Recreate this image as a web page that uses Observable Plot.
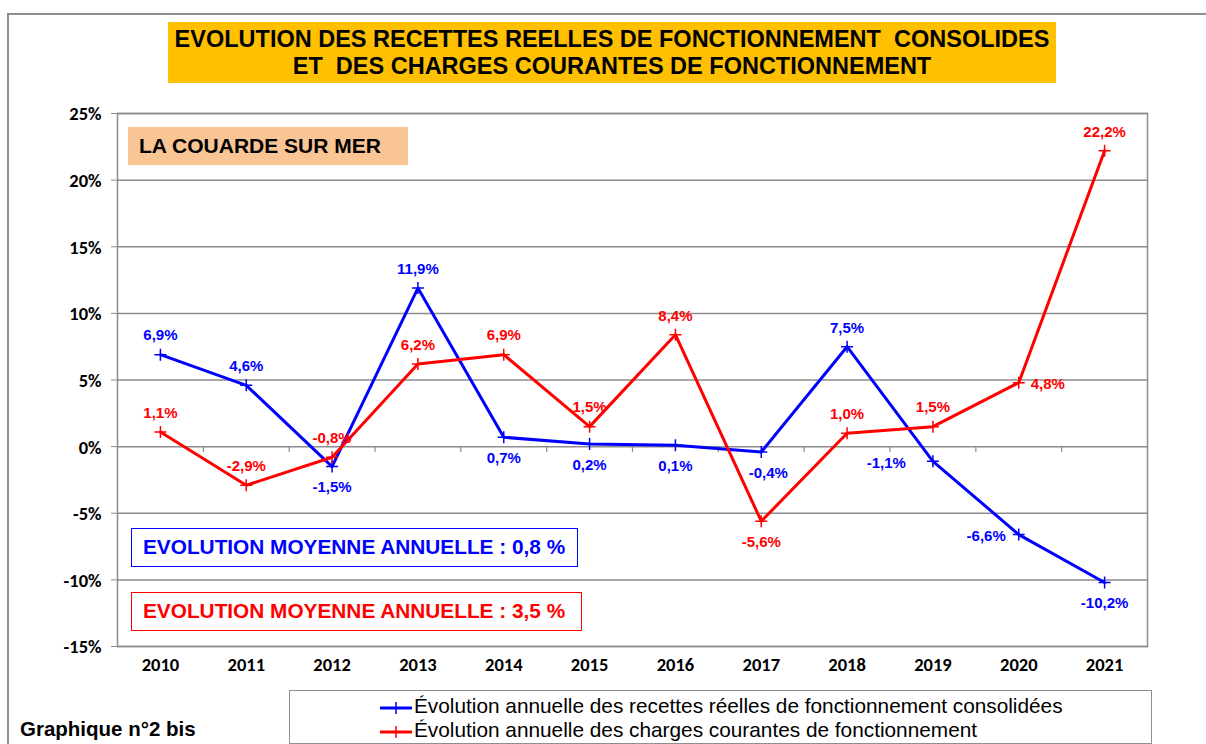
<!DOCTYPE html>
<html><head><meta charset="utf-8">
<script src="https://cdn.jsdelivr.net/npm/d3@7"></script>
<script src="https://cdn.jsdelivr.net/npm/@observablehq/plot@0.6"></script>
<style>
body{margin:0;background:#fff;font-family:"Liberation Sans",Arial,sans-serif;}
#wrap{position:relative;width:1206px;height:744px;overflow:hidden;background:#fff;}
#frame{position:absolute;left:7px;top:13px;width:1210px;height:800px;border-top:2px solid #8f8f8f;border-left:2px solid #8f8f8f;}
#chart{position:absolute;left:0;top:0;}
.box{position:absolute;box-sizing:border-box;font-weight:bold;white-space:nowrap;}
#title{left:168px;top:22px;width:888px;height:61px;background:#FFC000;color:#000;font-size:23.5px;line-height:27px;text-align:center;padding-top:4px;}
#commune{left:128px;top:127px;width:280px;height:38px;background:#FAC595;color:#000;font-size:21px;line-height:38px;padding-left:11px;}
#moyBlue{left:131px;top:528px;width:447px;height:39px;border:1.5px solid #0000ff;color:#0000ff;font-size:20.8px;line-height:36px;padding-left:11px;background:#fff;}
#moyRed{left:131px;top:592px;width:451px;height:39px;border:1.5px solid #ff0000;color:#ff0000;font-size:20.8px;line-height:36px;padding-left:11px;background:#fff;}
#legend{position:absolute;left:289px;top:690px;width:863px;height:54px;box-sizing:border-box;border:1.5px solid #8f8f8f;background:#fff;font-size:20.8px;}
.leg{position:absolute;left:89px;height:24px;line-height:24px;white-space:nowrap;color:#000;}
.leg svg{vertical-align:middle;}
#footer{position:absolute;left:20px;top:717px;font-size:20.5px;font-weight:bold;color:#000;}
</style></head><body>
<div id="wrap">
  <div id="frame"></div>
  <div id="chart"></div>
  <div id="title" class="box"></div>
  <div id="commune" class="box"></div>
  <div id="moyBlue" class="box"></div>
  <div id="moyRed" class="box"></div>
  <div id="legend"></div>
  <div id="footer"></div>
</div>
<script>
// ---- data ----
const years = [2010, 2011, 2012, 2013, 2014, 2015, 2016, 2017, 2018, 2019, 2020, 2021];
const recettes = [6.9, 4.6, -1.5, 11.9, 0.7, 0.2, 0.1, -0.4, 7.5, -1.1, -6.6, -10.2];
const charges = [1.1, -2.9, -0.8, 6.2, 6.9, 1.5, 8.4, -5.6, 1.0, 1.5, 4.8, 22.2];
const recettesLabelPos = ["top","top","bottom","top","bottom","bottom","bottom","bottomright","top","left","leftnear","bottom"];
const chargesLabelPos = ["top","top","top","top","top","top","top","bottom","top","top","right","top"];
const yTicks = [-15, -10, -5, 0, 5, 10, 15, 20, 25];
const seriesNames = ["Évolution annuelle des recettes réelles de fonctionnement consolidées",
                     "Évolution annuelle des charges courantes de fonctionnement"];
const seriesColors = ["#0000ff", "#ff0000"];
const titleLines = ["EVOLUTION DES RECETTES REELLES DE FONCTIONNEMENT\u00a0 CONSOLIDES", "ET\u00a0 DES CHARGES COURANTES DE FONCTIONNEMENT"];
const commune = "LA COUARDE SUR MER";
const moyennes = [0.8, 3.5];
const footer = "Graphique n°2 bis";

// ---- build ----
const fmt = v => v.toFixed(1).replace(".", ",") + "%";
const rows = [];
years.forEach((yr, i) => {
  rows.push({year: yr, value: recettes[i], serie: 0, pos: recettesLabelPos[i]});
  rows.push({year: yr, value: charges[i], serie: 1, pos: chargesLabelPos[i]});
});
const boundaries = years.slice(0, -1).map(y => y + 0.5);

const thinPlus = {
  draw(ctx, size) {
    const r = Math.sqrt(size / Math.PI);
    ctx.moveTo(-r, 0); ctx.lineTo(r, 0);
    ctx.moveTo(0, -r); ctx.lineTo(0, r);
  }
};

const placements = {
  top: {dx: 0, dy: -19, textAnchor: "middle"},
  bottom: {dx: 0, dy: 21, textAnchor: "middle"},
  bottomright: {dx: 7, dy: 21, textAnchor: "middle"},
  left: {dx: -27, dy: 2, textAnchor: "end"},
  leftnear: {dx: -13, dy: 2, textAnchor: "end"},
  right: {dx: 12, dy: 2, textAnchor: "start"}
};

const labelMarks = [];
for (const s of [0, 1]) {
  for (const [key, p] of Object.entries(placements)) {
    labelMarks.push(Plot.text(rows.filter(d => d.serie === s && d.pos === key), {
      x: "year", y: "value", text: d => fmt(d.value),
      dx: p.dx, dy: p.dy, textAnchor: p.textAnchor,
      fill: seriesColors[s], fontWeight: "bold", fontSize: 15,
      fontFamily: "'Liberation Sans', Arial, sans-serif"
    }));
  }
}

const axisFont = "Carlito, Lato, 'Open Sans', sans-serif";

const plot = Plot.plot({
  width: 1206, height: 744,
  marginTop: 113, marginBottom: 98, marginLeft: 117, marginRight: 59,
  style: {background: "transparent"},
  x: {type: "linear", domain: [years[0] - 0.5, years[years.length - 1] + 0.5], axis: null},
  y: {domain: [yTicks[0], yTicks[yTicks.length - 1]], axis: null},
  marks: [
    Plot.ruleY(yTicks, {stroke: "#8c8c8c", strokeWidth: 1.5}),
    Plot.ruleX(boundaries, {y1: 0, y2: -0.45, stroke: "#8c8c8c", strokeWidth: 1.2}),
    Plot.frame({stroke: "#8c8c8c", strokeWidth: 1.5}),
    Plot.axisY(yTicks, {tickFormat: () => "", tickSize: 6, stroke: "#8c8c8c", label: null}),
    Plot.text(yTicks, {y: d => d, frameAnchor: "left", dx: -16, dy: 1, textAnchor: "end", text: d => d + "%",
      fontWeight: "bold", fontSize: 18.5, fontFamily: axisFont, fill: "#000"}),
    Plot.text(years, {x: d => d, frameAnchor: "bottom", dy: 24, text: d => String(d),
      fontWeight: "bold", fontSize: 18.5, fontFamily: axisFont, fill: "#000"}),
    Plot.line(rows.filter(d => d.serie === 0), {x: "year", y: "value", stroke: seriesColors[0], strokeWidth: 3}),
    Plot.line(rows.filter(d => d.serie === 1), {x: "year", y: "value", stroke: seriesColors[1], strokeWidth: 3}),
    Plot.dot(rows, {x: "year", y: "value", symbol: thinPlus, r: 6, fill: "none", stroke: d => seriesColors[d.serie], strokeWidth: 1.5}),
    ...labelMarks
  ]
});
document.getElementById("chart").appendChild(plot);

document.getElementById("title").innerHTML = titleLines.join("<br>");
document.getElementById("commune").textContent = commune;
document.getElementById("moyBlue").textContent = "EVOLUTION MOYENNE ANNUELLE : " + String(moyennes[0]).replace(".", ",") + " %";
document.getElementById("moyRed").textContent = "EVOLUTION MOYENNE ANNUELLE : " + String(moyennes[1]).replace(".", ",") + " %";
document.getElementById("footer").textContent = footer;

const legend = document.getElementById("legend");
seriesNames.forEach((name, i) => {
  const div = document.createElement("div");
  div.className = "leg";
  div.style.top = (3 + i * 24) + "px";
  div.innerHTML = `<svg width="34" height="14" style="margin-right:1px"><line x1="1" y1="7" x2="33" y2="7" stroke="${seriesColors[i]}" stroke-width="3"/><line x1="17" y1="1" x2="17" y2="13" stroke="${seriesColors[i]}" stroke-width="1.5"/></svg>${name}`;
  legend.appendChild(div);
});
</script>
</body></html>
